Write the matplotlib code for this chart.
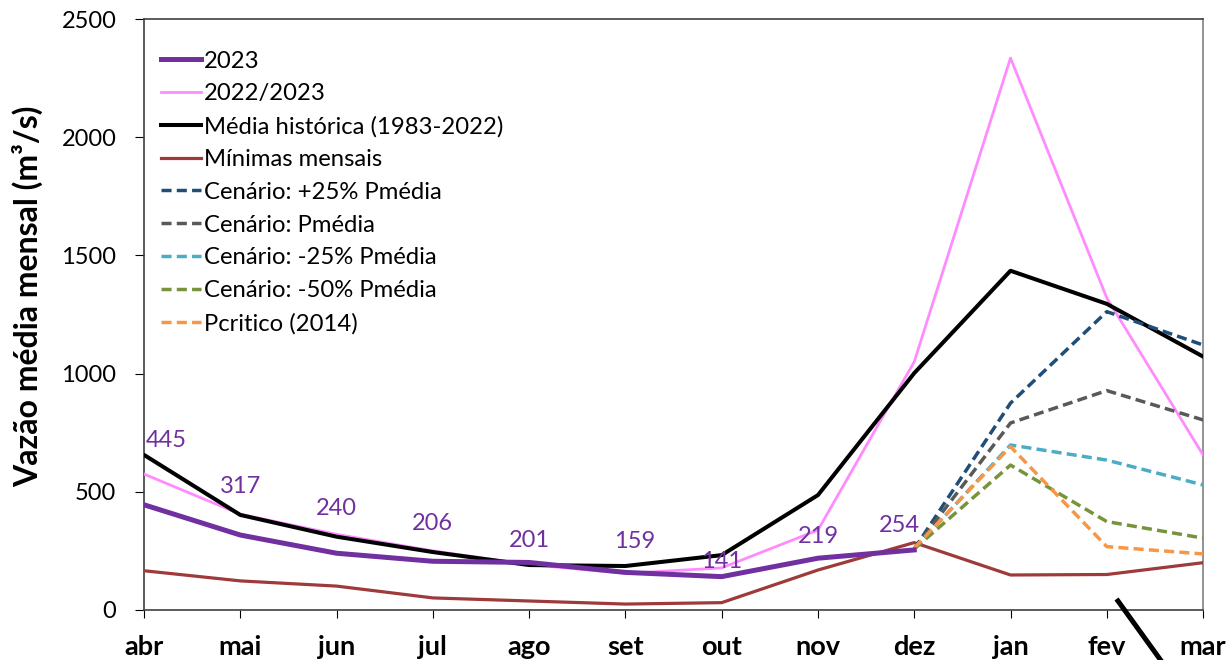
import matplotlib
matplotlib.use("Agg")
import matplotlib.pyplot as plt
from matplotlib.lines import Line2D

plt.rcParams['font.family'] = ['Lato', 'DejaVu Sans']

months = ["abr", "mai", "jun", "jul", "ago", "set", "out", "nov", "dez", "jan", "fev", "mar"]

v2023 = [445, 317, 240, 206, 201, 159, 141, 219, 254]
v2022_2023 = [575, 405, 320, 250, 192, 155, 178, 338, 1050, 2335, 1320, 656]
media_hist = [656, 402, 310, 245, 190, 186, 232, 486, 1002, 1435, 1295, 1072]
minimas = [166, 123, 101, 51, 38, 25, 31, 169, 285, 148, 150, 200]

scen_months = ["dez", "jan", "fev", "mar"]
scen_p125 = [258, 875, 1262, 1121]
scen_p100 = [258, 791, 928, 804]
scen_p75 = [258, 698, 634, 529]
scen_p50 = [258, 613, 374, 304]
scen_crit = [262, 691, 268, 237]

# label offsets (points) relative to the data point
label_offsets = [(16, 46), (0, 34.6), (0, 31.9), (0, 27), (0, 15.5), (6.5, 21.9), (0, 10.7), (0, 15.3), (-10.4, 17.3)]

fig = plt.figure(figsize=(12.3, 6.6), dpi=100)
ax = fig.add_axes([0.1171, 0.0758, 0.8610, 0.8954])

x = list(range(len(months)))
xs = [months.index(m) for m in scen_months]

ax.plot(x[:len(v2023)], v2023, color="#7030A0", lw=3.6, label="2023", zorder=6)
ax.plot(x, v2022_2023, color="#FF8CFF", lw=2.0, label="2022/2023", zorder=3)
ax.plot(x, media_hist, color="black", lw=2.9, label="Média histórica (1983-2022)", zorder=4)
ax.plot(x, minimas, color="#9E3A3A", lw=2.3, label="Mínimas mensais", zorder=5)
dash = (2.9, 1.5)
ax.plot(xs, scen_p125, color="#1F4E79", lw=2.5, dashes=dash, label="Cenário: +25% Pmédia", zorder=5)
ax.plot(xs, scen_p100, color="#595959", lw=2.5, dashes=dash, label="Cenário: Pmédia", zorder=5)
ax.plot(xs, scen_p75, color="#4BACC6", lw=2.5, dashes=dash, label="Cenário: -25% Pmédia", zorder=5)
ax.plot(xs, scen_p50, color="#77933C", lw=2.5, dashes=dash, label="Cenário: -50% Pmédia", zorder=5)
ax.plot(xs, scen_crit, color="#F79646", lw=2.5, dashes=dash, label="Pcritico (2014)", zorder=5)

for i, (v, off) in enumerate(zip(v2023, label_offsets)):
    ax.annotate(str(v), (i, v), xytext=off, textcoords="offset points",
                ha="center", va="center", color="#7030A0", fontsize=17, zorder=7)

ax.set_xlim(0, 11)
ax.set_ylim(0, 2500)
ax.set_yticks([0, 500, 1000, 1500, 2000, 2500])
ax.set_xticks(x)
ax.set_xticklabels(months, fontweight="bold", fontsize=19.5)
ax.tick_params(axis='y', labelsize=17, length=6.5, pad=13.5, direction='out')
ax.tick_params(axis='x', length=5.8, pad=12, direction='out')
for s in ax.spines.values():
    s.set_color("#404040")
    s.set_linewidth(1.2)
ax.spines['right'].set_color("#808080")

ax.set_ylabel("Vazão média mensal (m³/s)", fontsize=23, fontweight="bold")
ax.yaxis.set_label_coords(-0.0950, 0.53)

leg = ax.legend(loc="upper left", bbox_to_anchor=(0.0, 0.975), frameon=False, fontsize=17.2,
                handlelength=1.7, handletextpad=0.12, labelspacing=0.49, borderaxespad=0.3)

fig.add_artist(Line2D([1118 / 1230, 1162 / 1230], [1 - 601 / 660, 1 - 662 / 660],
                      color="black", lw=3.6, transform=fig.transFigure, clip_on=False))

fig.savefig("out.png", dpi=100)
